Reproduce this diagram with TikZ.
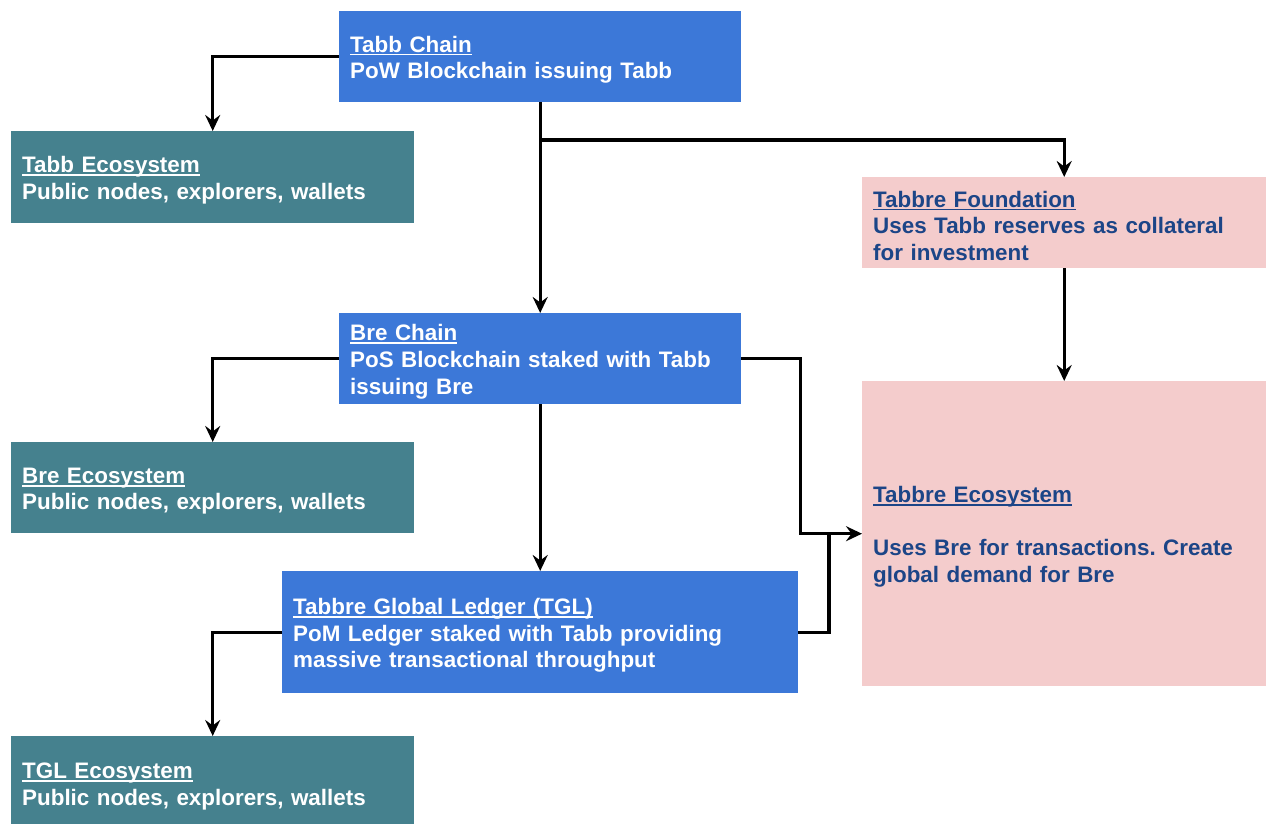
\documentclass[tikz,border=0pt]{standalone}
\usepackage{fontspec}
\setmainfont{Liberation Sans}
\usetikzlibrary{arrows.meta}
\frenchspacing
\definecolor{boxblue}{HTML}{3C78D8}
\definecolor{boxteal}{HTML}{45818E}
\definecolor{boxpink}{HTML}{F4CCCC}
\definecolor{navy}{HTML}{1C4587}
\newcommand\myul[1]{\setbox0\hbox{#1}\rule{0pt}{22.5pt}\rlap{\rule[-3.2pt]{\wd0}{1.7pt}}\box0}
\begin{document}
\begin{tikzpicture}[x=1pt,y=-1pt,
  base/.style={anchor=north west, inner xsep=11pt, inner ysep=0pt, align=left,
    font=\fontsize{22.4}{26.6}\selectfont\bfseries},
  bluebox/.style={base, fill=boxblue, text=white},
  tealbox/.style={base, fill=boxteal, text=white},
  pinkbox/.style={base, fill=boxpink, text=navy},
  arr/.style={line width=3.1pt, -{Stealth[length=16pt,width=15pt,inset=5.5pt]}},
  ln/.style={line width=3.1pt}]
\useasboundingbox (0,0) rectangle (1266,824);

\node[bluebox, text width=380pt, minimum height=91pt] (tabb) at (339,11)
  {\myul{Tabb Chain}\\PoW Blockchain issuing Tabb};
\node[tealbox, text width=381pt, minimum height=92pt] (tabbeco) at (11,131)
  {\myul{Tabb Ecosystem}\\Public nodes, explorers, wallets};
\node[pinkbox, text width=382pt, minimum height=91pt] (found) at (862,177)
  {\myul{Tabbre Foundation}\\Uses Tabb reserves as collateral\\for investment};
\node[bluebox, text width=380pt, minimum height=91pt] (bre) at (339,313)
  {\myul{Bre Chain}\\PoS Blockchain staked with Tabb\\issuing Bre};
\node[tealbox, text width=381pt, minimum height=91pt] (breeco) at (11,442)
  {\myul{Bre Ecosystem}\\Public nodes, explorers, wallets};
\node[pinkbox, text width=382pt, minimum height=305pt] (teco) at (862,381)
  {\myul{Tabbre Ecosystem}\\\mbox{}\\Uses Bre for transactions. Create\\global demand for Bre};
\node[bluebox, text width=494pt, minimum height=122pt] (tgl) at (282,571)
  {\myul{Tabbre Global Ledger (TGL)}\\PoM Ledger staked with Tabb providing\\massive transactional throughput};
\node[tealbox, text width=381pt, minimum height=94pt] (tgleco) at (11,736)
  {\myul{TGL Ecosystem}\\Public nodes, explorers, wallets};

\coordinate (split) at (540,140);
\coordinate (join) at (829,533.5);

\draw[arr] (tabb.west) -| (tabbeco.north);
\draw[arr] (tabb.south) -- (bre.north);
\draw[arr] (split) -| (found.north);
\draw[arr] (found.south) -- (teco.north);
\draw[arr] (bre.west) -| (breeco.north);
\draw[arr] (bre.south) -- (tgl.north);
\draw[arr] (bre.east) -- ++(59,0) |- (teco.west);
\draw[ln] (tgl.east) -| (join);
\draw[arr] (tgl.west) -| (tgleco.north);
\end{tikzpicture}
\end{document}
